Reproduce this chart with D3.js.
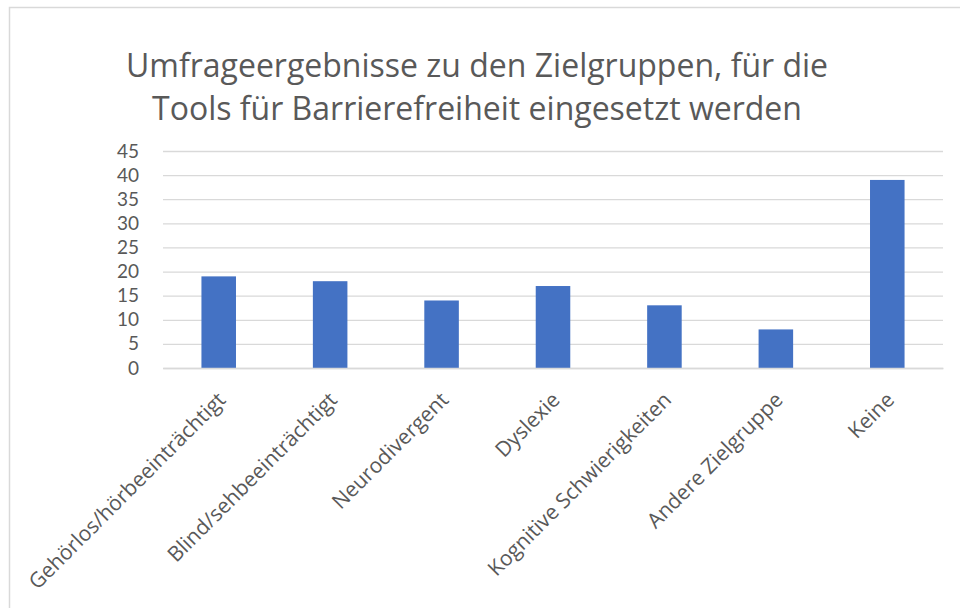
<!DOCTYPE html>
<html>
<head>
<meta charset="utf-8">
<script src="https://cdn.jsdelivr.net/npm/d3@7"></script>
<style>
  body { margin: 0; background: #fff; }
  text { font-family: "Open Sans", "Noto Sans", sans-serif; fill: #595959; }
</style>
</head>
<body>
<div id="wrapper"></div>
<script>
// 1. Data
const categories = [
  "Gehörlos/hörbeeinträchtigt",
  "Blind/sehbeeinträchtigt",
  "Neurodivergent",
  "Dyslexie",
  "Kognitive Schwierigkeiten",
  "Andere Zielgruppe",
  "Keine",
]
const values = [19, 18, 14, 17, 13, 8, 39]
const yTicks = [0, 5, 10, 15, 20, 25, 30, 35, 40, 45]
const titleLines = [
  "Umfrageergebnisse zu den Zielgruppen, für die",
  "Tools für Barrierefreiheit eingesetzt werden",
]

// 2. Dimensions
const dimensions = {
  width: 960,
  height: 608,
  margin: { top: 151, right: 17, bottom: 240, left: 163 },
}
dimensions.boundedWidth = dimensions.width - dimensions.margin.left - dimensions.margin.right
dimensions.boundedHeight = 368 - dimensions.margin.top

// 3. Canvas
const svg = d3.select("#wrapper").append("svg")
  .attr("width", dimensions.width)
  .attr("height", dimensions.height)

// chart frame (runs off the right and bottom edges)
svg.append("rect")
  .attr("x", 9.5).attr("y", 7.5)
  .attr("width", 1000).attr("height", 700)
  .attr("fill", "none")
  .attr("stroke", "#d9d9d9")
  .attr("stroke-width", 1.5)

svg.append("g").selectAll("text")
  .data(titleLines)
  .join("text")
    .attr("x", 477)
    .attr("y", (d, i) => 77 + i * 43)
    .attr("text-anchor", "middle")
    .style("font-size", "32px")
    .text(d => d)

const bounds = svg.append("g")
  .attr("transform", `translate(${dimensions.margin.left},${dimensions.margin.top})`)

// 4. Scales
const xScale = d3.scaleBand()
  .domain(categories)
  .range([0, dimensions.boundedWidth])
  .paddingInner(0.69)
  .paddingOuter(0.345)

const yScale = d3.scaleLinear()
  .domain([0, 45])
  .range([dimensions.boundedHeight, 0])

// 5. Gridlines + bars
const yAxis = d3.axisLeft(yScale)
  .tickValues(yTicks)
  .tickSize(-dimensions.boundedWidth)
  .tickPadding(24)

const yAxisGroup = bounds.append("g").call(yAxis)
yAxisGroup.select(".domain").remove()
yAxisGroup.selectAll("line").attr("stroke", "#d9d9d9").attr("stroke-width", 1.3)
// Lato has a tighter line box, so the tick labels don't collide at 24px spacing
yAxisGroup.selectAll("text")
  .style("font-size", "19px")
  .style("font-family", "Lato, 'Open Sans', sans-serif")
  .attr("fill", "#595959")

bounds.selectAll(".bar")
  .data(values)
  .join("rect")
    .attr("class", "bar")
    .attr("x", (d, i) => xScale(categories[i]))
    .attr("width", xScale.bandwidth())
    .attr("y", d => yScale(d))
    .attr("height", d => dimensions.boundedHeight - yScale(d))
    .attr("fill", "#4472c4")

// 6. X labels, rotated
const xAxis = d3.axisBottom(xScale).tickSize(0).tickPadding(0)
const xAxisGroup = bounds.append("g")
  .attr("transform", `translate(0,${dimensions.boundedHeight})`)
  .call(xAxis)
xAxisGroup.select(".domain").attr("stroke", "#d9d9d9").attr("stroke-width", 1.3)
xAxisGroup.selectAll("text")
  .style("font-size", "21px")
  .style("font-family", "'Open Sans', sans-serif")
  .attr("fill", "#595959")
  .attr("text-anchor", "end")
  .attr("dy", "0.35em")
  .attr("transform", "translate(3,28) rotate(-45)")
</script>
</body>
</html>
